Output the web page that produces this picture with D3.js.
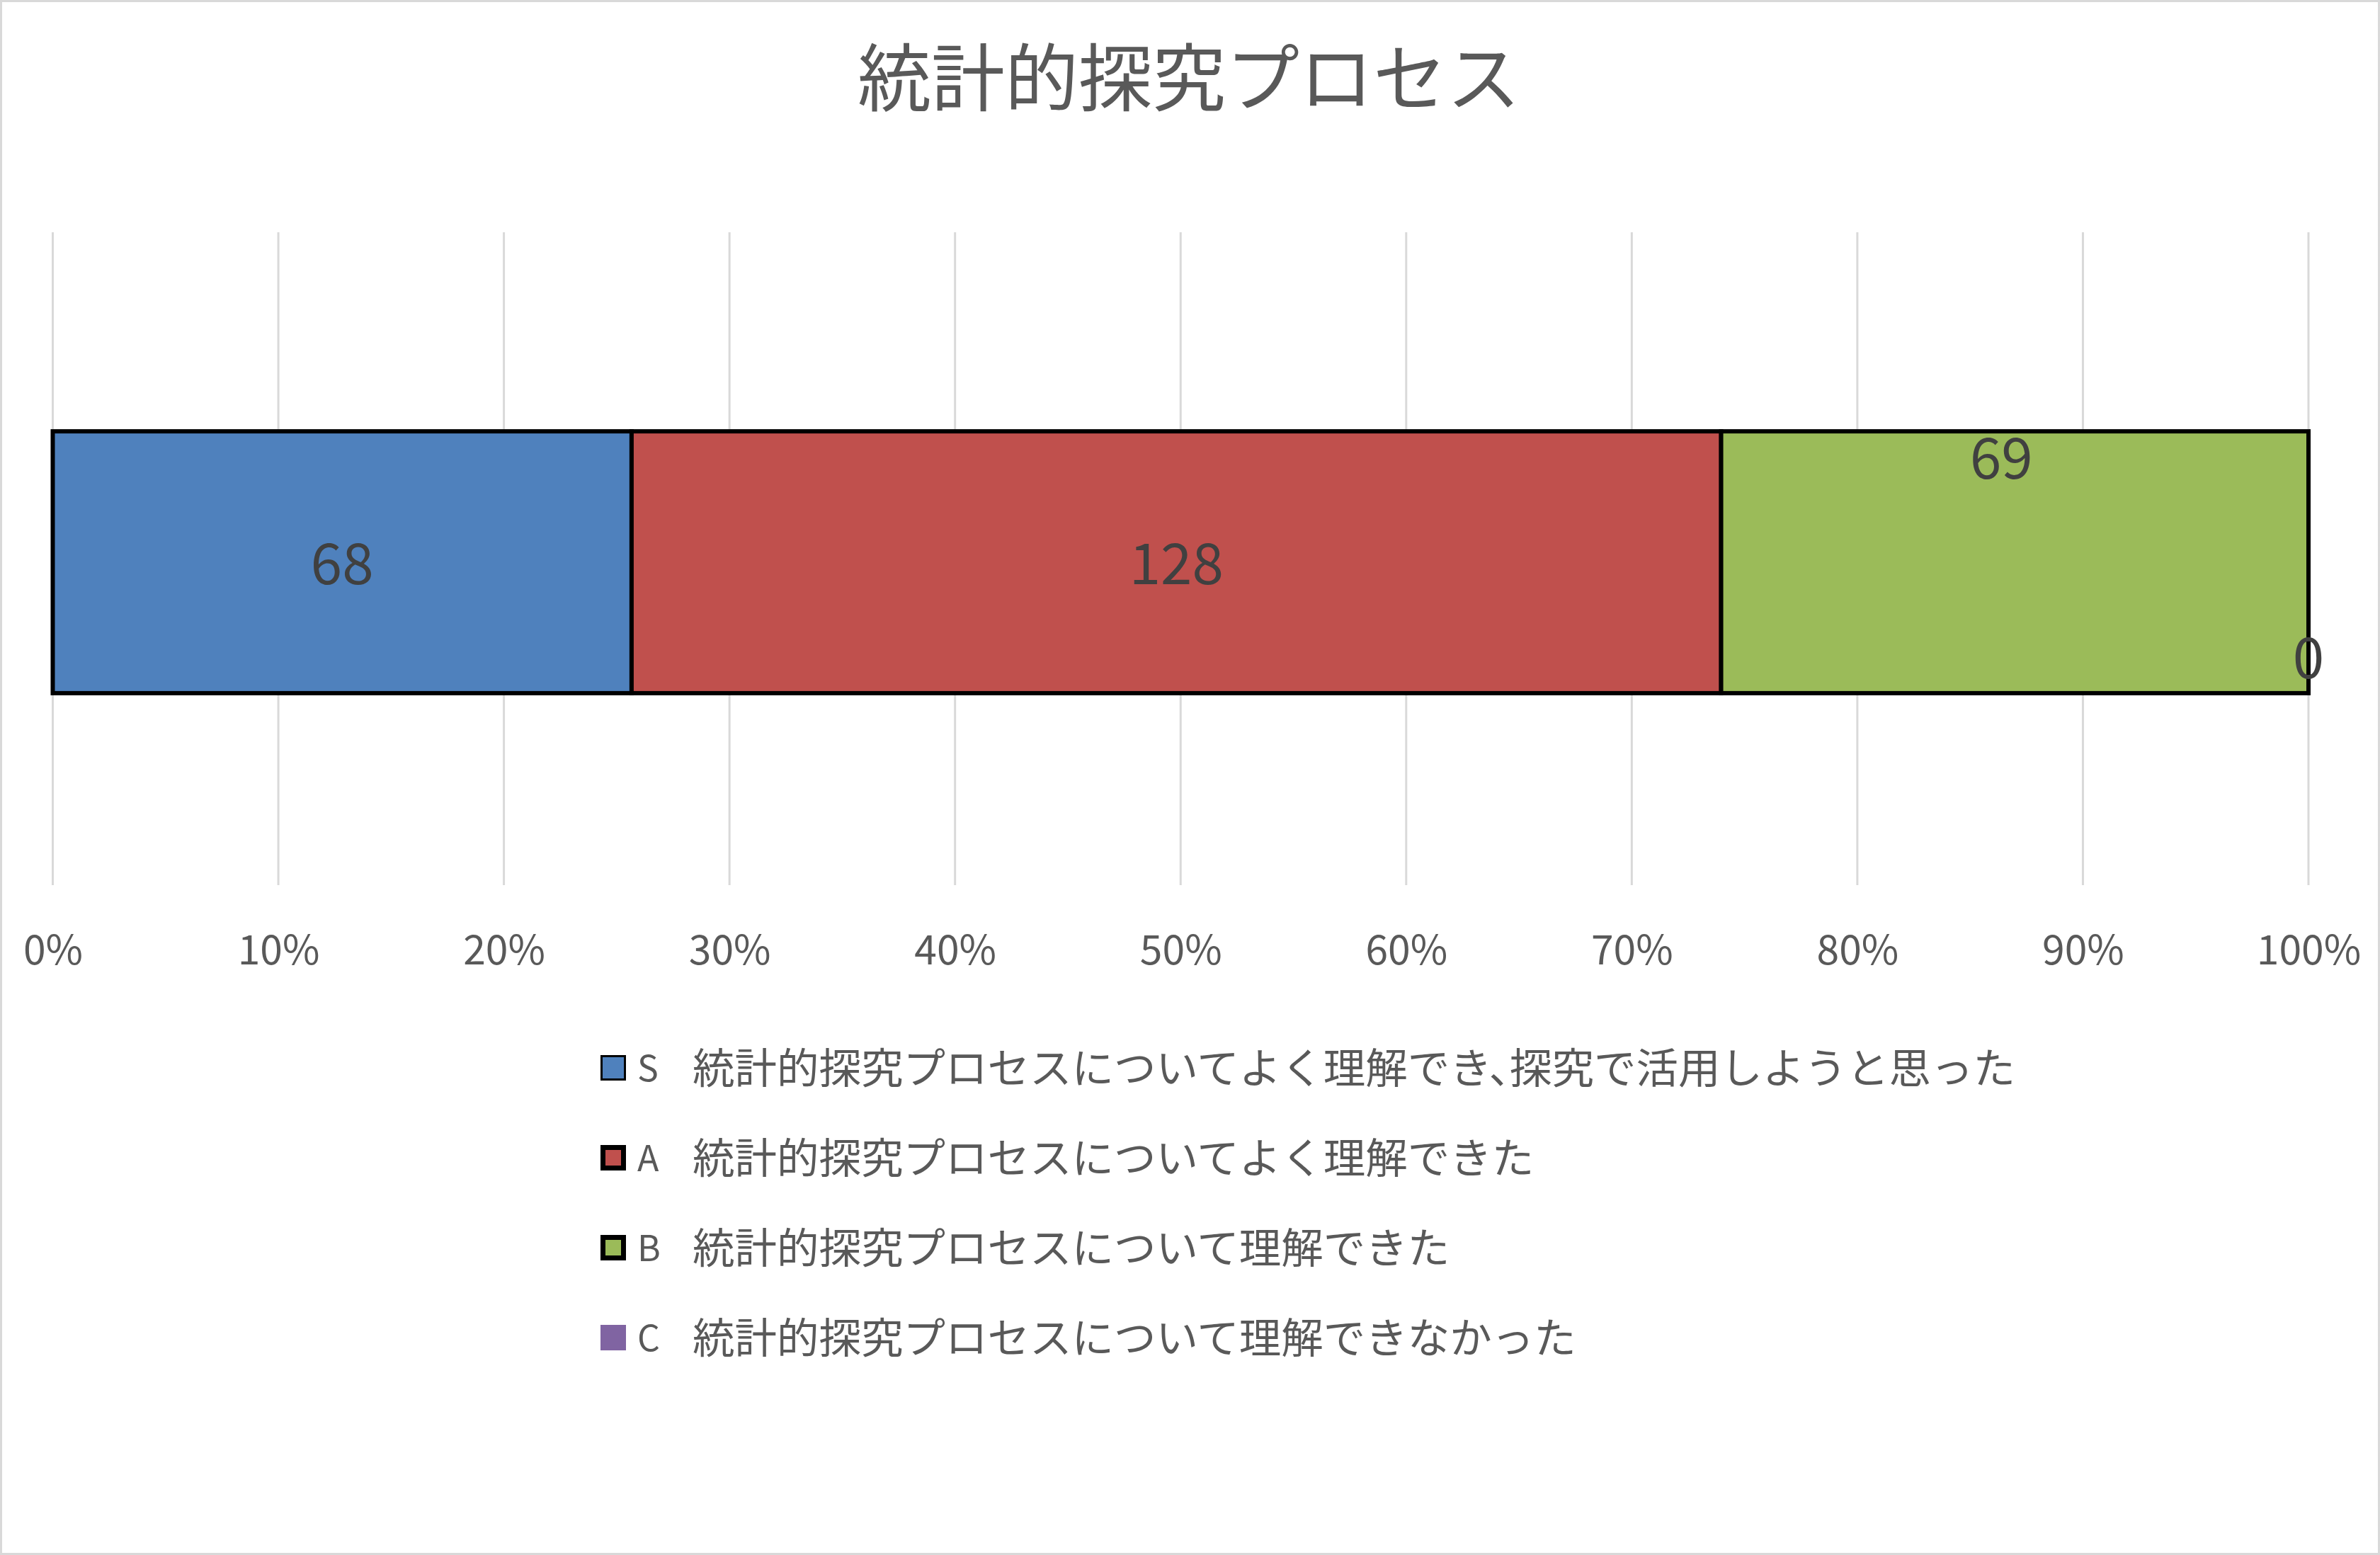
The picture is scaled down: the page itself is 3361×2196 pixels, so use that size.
<!DOCTYPE html>
<html><head><meta charset="utf-8">
<script src="https://cdn.jsdelivr.net/npm/d3@7"></script>
<style>html,body{margin:0;padding:0;background:#fff;}svg{display:block;}</style>
</head><body>
<script>
const title = "統計的探究プロセス";
const category = ["統計的探究プロセス"];
const seriesCodes = ["S", "A", "B", "C"];
const seriesNames = [
  "統計的探究プロセスについてよく理解でき、探究で活用しようと思った",
  "統計的探究プロセスについてよく理解できた",
  "統計的探究プロセスについて理解できた",
  "統計的探究プロセスについて理解できなかった"
];
const seriesValues = [68, 128, 69, 0];
const seriesColors = ["#4f81bd", "#c0504d", "#9bbb59", "#8064a2"];
const tickValues = [0, 0.1, 0.2, 0.3, 0.4, 0.5, 0.6, 0.7, 0.8, 0.9, 1.0];

const W = 3361, H = 2196;
const FONT = "'Noto Sans CJK JP', 'Noto Sans', sans-serif";
const svg = d3.select("body").append("svg").attr("width", W).attr("height", H);

svg.append("rect").attr("x", 1.5).attr("y", 1.5).attr("width", W - 3).attr("height", H - 3)
  .attr("fill", "#fff").attr("stroke", "#d9d9d9").attr("stroke-width", 3);

svg.append("text").attr("x", 1679).attr("y", 103).attr("text-anchor", "middle")
  .attr("dominant-baseline", "central").attr("font-family", FONT).attr("font-size", 104)
  .attr("fill", "#595959").text(title);

const x = d3.scaleLinear().domain([0, 1]).range([74.5, 3260]);
const gridTop = 328, gridBottom = 1250;
const y = d3.scaleBand().domain(category).range([333, 1255]).paddingInner(0.4275).paddingOuter(0.4275);

// gridlines
svg.append("g").selectAll("line").data(tickValues).join("line")
  .attr("x1", d => x(d)).attr("x2", d => x(d))
  .attr("y1", gridTop).attr("y2", gridBottom)
  .attr("stroke", "#d9d9d9").attr("stroke-width", 3);

// axis labels
const axis = d3.axisBottom(x).tickValues(tickValues).tickFormat(d3.format(".0%")).tickSize(0).tickPadding(0);
const ax = svg.append("g").attr("transform", `translate(0,${1337})`).call(axis);
ax.select(".domain").remove();
ax.selectAll("text").attr("font-family", FONT).attr("font-size", 57).attr("fill", "#595959")
  .attr("dy", null).attr("dominant-baseline", "central");

// stacked data
const row = {cat: category[0]};
seriesCodes.forEach((c, i) => row[c] = seriesValues[i]);
const stack = d3.stack().keys(seriesCodes).offset(d3.stackOffsetExpand);
const layers = stack([row]);

const bars = svg.append("g");
layers.forEach((layer, i) => {
  const d = layer[0];
  if (seriesValues[i] > 0) {
    bars.append("rect")
      .attr("x", x(d[0])).attr("y", y(category[0]))
      .attr("width", x(d[1]) - x(d[0])).attr("height", y.bandwidth())
      .attr("fill", seriesColors[i]).attr("stroke", "#000").attr("stroke-width", 6);
  }
});

// data labels
const bandTop = y(category[0]), bandBot = y(category[0]) + y.bandwidth(), bandMid = bandTop + y.bandwidth() / 2;
layers.forEach((layer, i) => {
  const d = layer[0];
  let lx = (x(d[0]) + x(d[1])) / 2, ly = bandMid - 4;
  if (seriesCodes[i] === "B") { lx -= 19; ly = bandTop + 32; }
  if (seriesCodes[i] === "C") { lx = x(d[1]); ly = bandBot - 56; }
  svg.append("text").attr("x", lx).attr("y", ly).attr("text-anchor", "middle")
    .attr("dominant-baseline", "central").attr("font-family", FONT).attr("font-size", 80)
    .attr("fill", "#404040").text(seriesValues[i]);
});

// legend
const legendY = d3.scalePoint().domain(seriesCodes).range([1508, 1889]);
const borderW = [3, 7, 7, 0];
const lg = svg.append("g");
seriesCodes.forEach((c, i) => {
  const cy = legendY(c);
  const bw = borderW[i];
  lg.append("rect").attr("x", 848 + bw / 2).attr("y", cy - 18 + bw / 2)
    .attr("width", 36 - bw).attr("height", 36 - bw)
    .attr("fill", seriesColors[i]).attr("stroke", bw ? "#000" : "none").attr("stroke-width", bw);
  lg.append("text").attr("x", 900).attr("y", cy - 3).attr("dominant-baseline", "central")
    .attr("font-family", FONT).attr("font-size", 50).attr("fill", "#595959").text(c);
  const t = lg.append("text").attr("x", 978).attr("y", cy - 4).attr("dominant-baseline", "central")
    .attr("font-family", FONT).attr("font-size", 59.5).attr("fill", "#595959");
  const parts = seriesNames[i].split("、");
  parts.forEach((p, k) => {
    t.append("tspan").attr("dx", k > 0 ? -30 : null).text(k < parts.length - 1 ? p + "、" : p);
  });
});
</script>
</body></html>
